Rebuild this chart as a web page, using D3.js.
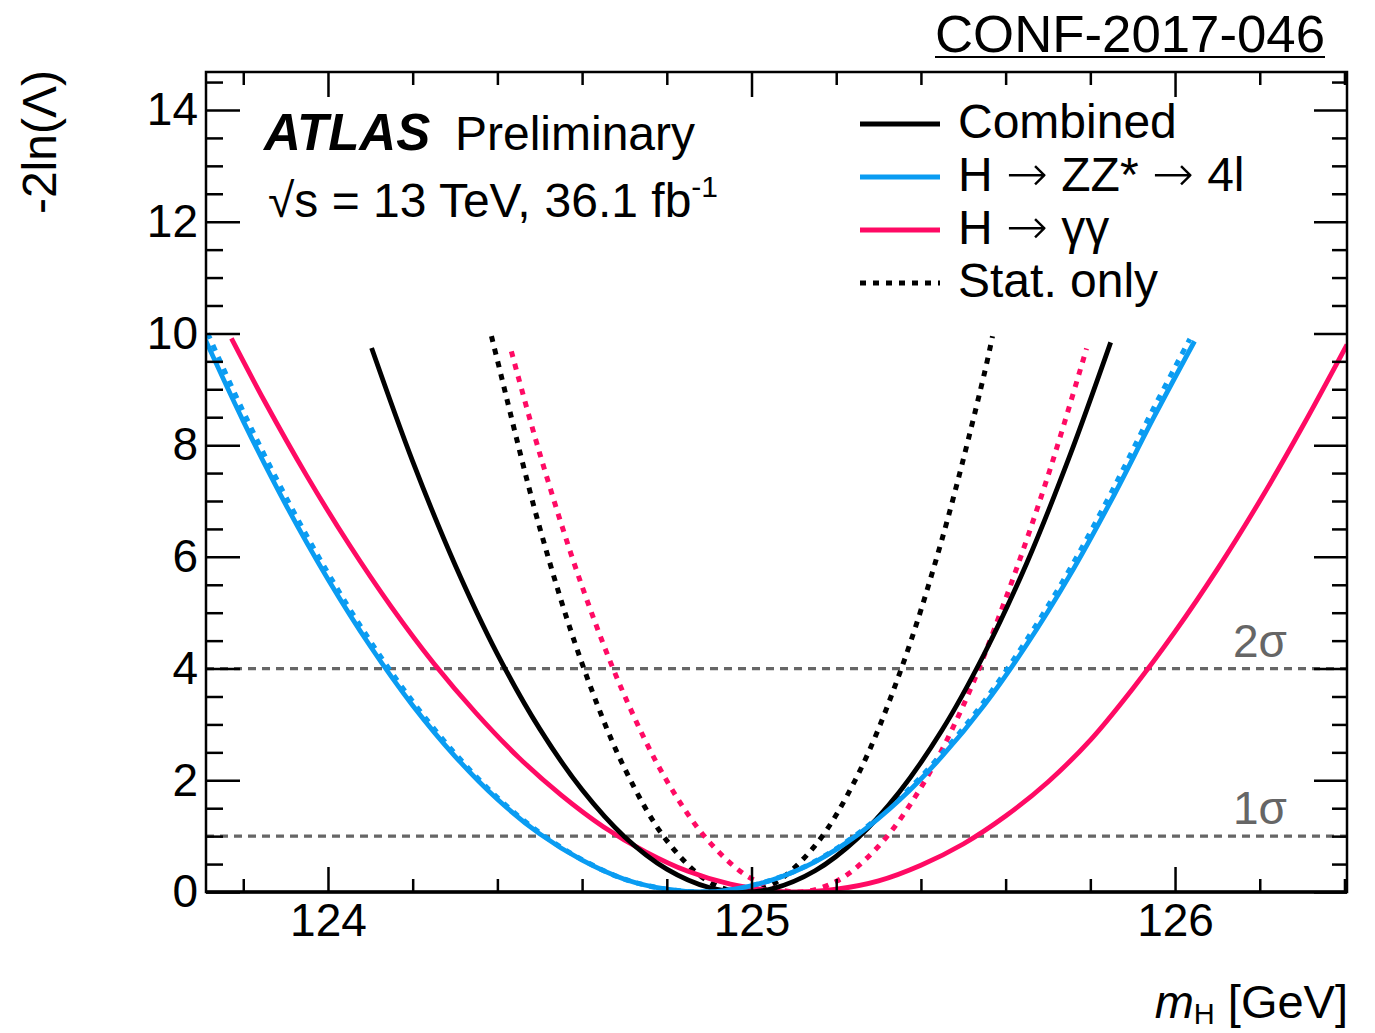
<!DOCTYPE html>
<html>
<head>
<meta charset="utf-8">
<script src="https://cdn.jsdelivr.net/npm/d3@7"></script>
<style>
  html, body { margin: 0; padding: 0; background: #fff; }
  svg { display: block; font-family: "Liberation Sans", Arial, Helvetica, sans-serif; }
</style>
</head>
<body>
<svg id="chart" width="1375" height="1033"></svg>
<script>
// Profile-likelihood scans -2ln(Lambda) versus the Higgs boson mass m_H [GeV]

// Combined, full uncertainties
const combinedMass = [124.103, 124.20, 124.30, 124.40, 124.50, 124.60, 124.70, 124.80, 124.90, 124.98, 125.05, 125.15, 125.25, 125.35, 125.45, 125.55, 125.65, 125.75, 125.848];
const combinedNll  = [9.74, 7.71, 5.86, 4.26, 2.92, 1.83, 0.99, 0.41, 0.08, 0.0, 0.06, 0.38, 0.96, 1.80, 2.90, 4.27, 5.89, 7.78, 9.84];

// Combined, statistical only
const combinedStatMass = [124.386, 124.40, 124.50, 124.60, 124.70, 124.80, 124.90, 124.98, 125.05, 125.15, 125.25, 125.35, 125.45, 125.55, 125.569];
const combinedStatNll  = [9.95, 9.52, 6.52, 4.09, 2.22, 0.92, 0.18, 0.0, 0.14, 0.83, 2.08, 3.92, 6.32, 9.29, 9.95];

// H -> ZZ* -> 4l, full uncertainties
const zzMass = [123.711, 123.80, 123.90, 124.00, 124.10, 124.20, 124.30, 124.40, 124.50, 124.60, 124.70, 124.80, 124.88, 124.95, 125.05, 125.15, 125.25, 125.35, 125.45, 125.55, 125.65, 125.75, 125.85, 125.95, 126.046];
const zzNll  = [9.88, 8.43, 6.94, 5.60, 4.40, 3.34, 2.43, 1.66, 1.04, 0.57, 0.23, 0.05, 0.0, 0.04, 0.22, 0.54, 1.02, 1.65, 2.43, 3.35, 4.43, 5.65, 7.02, 8.50, 9.86];

// H -> ZZ* -> 4l, statistical only
const zzStatMass = [123.716, 123.80, 123.90, 124.00, 124.10, 124.20, 124.30, 124.40, 124.50, 124.60, 124.70, 124.80, 124.88, 124.95, 125.05, 125.15, 125.25, 125.35, 125.45, 125.55, 125.65, 125.75, 125.85, 125.95, 126.035];
const zzStatNll  = [10.0, 8.60, 7.08, 5.71, 4.49, 3.41, 2.48, 1.69, 1.06, 0.58, 0.23, 0.05, 0.0, 0.04, 0.22, 0.55, 1.04, 1.68, 2.48, 3.42, 4.52, 5.76, 7.16, 8.67, 9.90];

// H -> gamma gamma, full uncertainties
const ggMass = [123.772, 123.85, 123.95, 124.05, 124.15, 124.25, 124.35, 124.45, 124.55, 124.65, 124.75, 124.85, 124.95, 125.03, 125.11, 125.20, 125.30, 125.40, 125.50, 125.60, 125.70, 125.80, 125.90, 126.00, 126.10, 126.20, 126.30, 126.406];
const ggNll  = [9.91, 8.79, 7.45, 6.22, 5.10, 4.09, 3.20, 2.41, 1.74, 1.17, 0.72, 0.37, 0.14, 0.04, 0.0, 0.05, 0.20, 0.48, 0.86, 1.36, 1.97, 2.72, 3.64, 4.66, 5.78, 7.00, 8.32, 9.80];

// H -> gamma gamma, statistical only
const ggStatMass = [124.433, 124.50, 124.60, 124.70, 124.80, 124.90, 125.00, 125.105, 125.20, 125.30, 125.40, 125.50, 125.60, 125.70, 125.791];
const ggStatNll  = [9.68, 7.85, 5.47, 3.52, 1.99, 0.90, 0.24, 0.0, 0.19, 0.82, 1.87, 3.34, 5.25, 7.45, 9.73];

// Axis ticks
const xMajorTicks = [124, 125, 126];
const xMinorTicks = [123.8, 124.2, 124.4, 124.6, 124.8, 125.2, 125.4, 125.6, 125.8, 126.2, 126.4];
const yMajorTicks = [0, 2, 4, 6, 8, 10, 12, 14];
const yMinorTicks = [0.5, 1, 1.5, 2.5, 3, 3.5, 4.5, 5, 5.5, 6.5, 7, 7.5, 8.5, 9, 9.5, 10.5, 11, 11.5, 12.5, 13, 13.5, 14.5];

// Reference levels and their labels
const sigmaLevels = [1, 4];
const sigmaLabels = ["1σ", "2σ"];

const legendLabels = ["Combined", "H → ZZ* → 4l", "H → γγ", "Stat. only"];

// ---------------------------------------------------------------------------
const BLUE = "#0a9cf2";
const PINK = "#ff0a64";
const GREY = "#666666";
const DASH = "6 7";

const svg = d3.select("#chart");
const plot = { left: 206, right: 1347, top: 72, bottom: 892 };

const x = d3.scaleLinear().domain([123.712, 126.406]).range([plot.left, plot.right]);
const y = d3.scaleLinear().domain([0, 14.68]).range([plot.bottom, plot.top]);

svg.append("defs").append("clipPath").attr("id", "plotClip")
  .append("rect")
  .attr("x", plot.left).attr("y", plot.top)
  .attr("width", plot.right - plot.left).attr("height", plot.bottom - plot.top);

// Dashed 1 sigma / 2 sigma levels
svg.append("g").selectAll("line").data(sigmaLevels).join("line")
  .attr("x1", plot.left).attr("x2", plot.right)
  .attr("y1", d => y(d)).attr("y2", d => y(d))
  .attr("stroke", GREY).attr("stroke-width", 3.2)
  .attr("stroke-dasharray", "8 6");

svg.append("g").selectAll("text").data(sigmaLevels).join("text")
  .attr("x", 1287).attr("y", d => y(d) - 12)
  .attr("text-anchor", "end")
  .attr("font-size", 46).attr("fill", GREY)
  .text((d, i) => sigmaLabels[i]);

// Scan curves
const line = d3.line()
  .x(d => x(d[0])).y(d => y(Math.max(0, d[1])))
  .curve(d3.curveCatmullRom.alpha(0.5));

const curves = [
  { mass: ggStatMass, nll: ggStatNll, color: PINK, dash: DASH },
  { mass: combinedStatMass, nll: combinedStatNll, color: "#000", dash: DASH },
  { mass: zzStatMass, nll: zzStatNll, color: BLUE, dash: DASH },
  { mass: ggMass, nll: ggNll, color: PINK, dash: null },
  { mass: combinedMass, nll: combinedNll, color: "#000", dash: null },
  { mass: zzMass, nll: zzNll, color: BLUE, dash: null }
];

const curveLayer = svg.append("g").attr("clip-path", "url(#plotClip)");
curves.forEach(c => {
  curveLayer.append("path")
    .datum(d3.zip(c.mass, c.nll))
    .attr("d", line)
    .attr("fill", "none")
    .attr("stroke", c.color)
    .attr("stroke-width", c.dash ? 5 : 4.8)
    .attr("stroke-dasharray", c.dash);
});

// Axes: ticks point inward on all four sides
function styleAxis(g) {
  g.select(".domain").remove();
  g.selectAll(".tick line").attr("stroke", "#000").attr("stroke-width", 2.5);
  g.selectAll(".tick text").attr("fill", "#000").attr("font-size", 46)
    .attr("font-family", "'Liberation Sans', Arial, Helvetica, sans-serif");
}

svg.append("g").attr("transform", `translate(0,${plot.bottom})`)
  .call(d3.axisBottom(x).tickValues(xMajorTicks).tickSize(-25).tickPadding(11).tickFormat(d3.format("d")))
  .call(styleAxis);
svg.append("g").attr("transform", `translate(0,${plot.bottom})`)
  .call(d3.axisBottom(x).tickValues(xMinorTicks).tickSize(-13).tickFormat(""))
  .call(styleAxis);
svg.append("g").attr("transform", `translate(0,${plot.top})`)
  .call(d3.axisTop(x).tickValues(xMajorTicks).tickSize(-25).tickFormat(""))
  .call(styleAxis);
svg.append("g").attr("transform", `translate(0,${plot.top})`)
  .call(d3.axisTop(x).tickValues(xMinorTicks).tickSize(-13).tickFormat(""))
  .call(styleAxis);

svg.append("g").attr("transform", `translate(${plot.left},0)`)
  .call(d3.axisLeft(y).tickValues(yMajorTicks).tickSize(-34).tickPadding(8).tickFormat(d3.format("d")))
  .call(styleAxis);
svg.append("g").attr("transform", `translate(${plot.left},0)`)
  .call(d3.axisLeft(y).tickValues(yMinorTicks).tickSize(-17).tickFormat(""))
  .call(styleAxis);
svg.append("g").attr("transform", `translate(${plot.right},0)`)
  .call(d3.axisRight(y).tickValues(yMajorTicks).tickSize(-33).tickFormat(""))
  .call(styleAxis);
svg.append("g").attr("transform", `translate(${plot.right},0)`)
  .call(d3.axisRight(y).tickValues(yMinorTicks).tickSize(-15).tickFormat(""))
  .call(styleAxis);

// Frame
svg.append("rect")
  .attr("x", plot.left).attr("y", plot.top)
  .attr("width", plot.right - plot.left).attr("height", plot.bottom - plot.top)
  .attr("fill", "none").attr("stroke", "#000").attr("stroke-width", 2.5);
svg.append("line")
  .attr("x1", plot.left).attr("x2", plot.right)
  .attr("y1", plot.bottom).attr("y2", plot.bottom)
  .attr("stroke", "#000").attr("stroke-width", 3.5);

// Axis titles
const xTitle = svg.append("text")
  .attr("x", 1348).attr("y", 1018)
  .attr("text-anchor", "end").attr("font-size", 47).attr("fill", "#000");
xTitle.append("tspan").attr("font-style", "italic").text("m");
xTitle.append("tspan").attr("font-size", 29).attr("dy", 6).text("H");
xTitle.append("tspan").attr("dy", -6).text(" [GeV]");

svg.append("text")
  .attr("transform", "translate(56,70) rotate(-90)")
  .attr("text-anchor", "end").attr("font-size", 48).attr("fill", "#000")
  .text("-2ln(Λ)");

// Document reference, underlined
svg.append("text")
  .attr("x", 1325).attr("y", 52)
  .attr("text-anchor", "end").attr("font-size", 52).attr("fill", "#000")
  .attr("textLength", 390).attr("lengthAdjust", "spacingAndGlyphs")
  .text("CONF-2017-046");
svg.append("line")
  .attr("x1", 935).attr("x2", 1325)
  .attr("y1", 57).attr("y2", 57)
  .attr("stroke", "#000").attr("stroke-width", 2);

// Experiment label
svg.append("text")
  .attr("x", 264).attr("y", 150)
  .attr("font-size", 51).attr("font-weight", "bold").attr("font-style", "italic")
  .attr("fill", "#000").text("ATLAS");
svg.append("text")
  .attr("x", 455).attr("y", 150)
  .attr("font-size", 48).attr("fill", "#000").text("Preliminary");

const energy = svg.append("text")
  .attr("x", 268).attr("y", 217)
  .attr("font-size", 48).attr("fill", "#000");
energy.append("tspan").text("√s = 13 TeV,");
energy.append("tspan").attr("dx", 14).text("36.1 fb");
energy.append("tspan").attr("font-size", 30).attr("dy", -20).text("-1");

// Legend
const legendStyles = [
  { color: "#000", dash: null },
  { color: BLUE, dash: null },
  { color: PINK, dash: null },
  { color: "#000", dash: DASH }
];
const legend = svg.append("g");
legendLabels.forEach((label, i) => {
  const ly = 124 + i * 53;
  legend.append("line")
    .attr("x1", 860).attr("x2", 940).attr("y1", ly).attr("y2", ly)
    .attr("stroke", legendStyles[i].color).attr("stroke-width", 5)
    .attr("stroke-dasharray", legendStyles[i].dash);
  const t = legend.append("text")
    .attr("x", 958).attr("y", ly + 14)
    .attr("font-size", 48).attr("fill", "#000");
  // arrows are set in a font whose arrow glyph is long and thin
  label.split("→").forEach((part, j) => {
    if (j > 0) {
      t.append("tspan").attr("font-family", "'DejaVu Sans', sans-serif")
        .attr("font-size", 50).attr("font-weight", 200).text("→");
    }
    t.append("tspan").text(part);
  });
});
</script>
</body>
</html>
